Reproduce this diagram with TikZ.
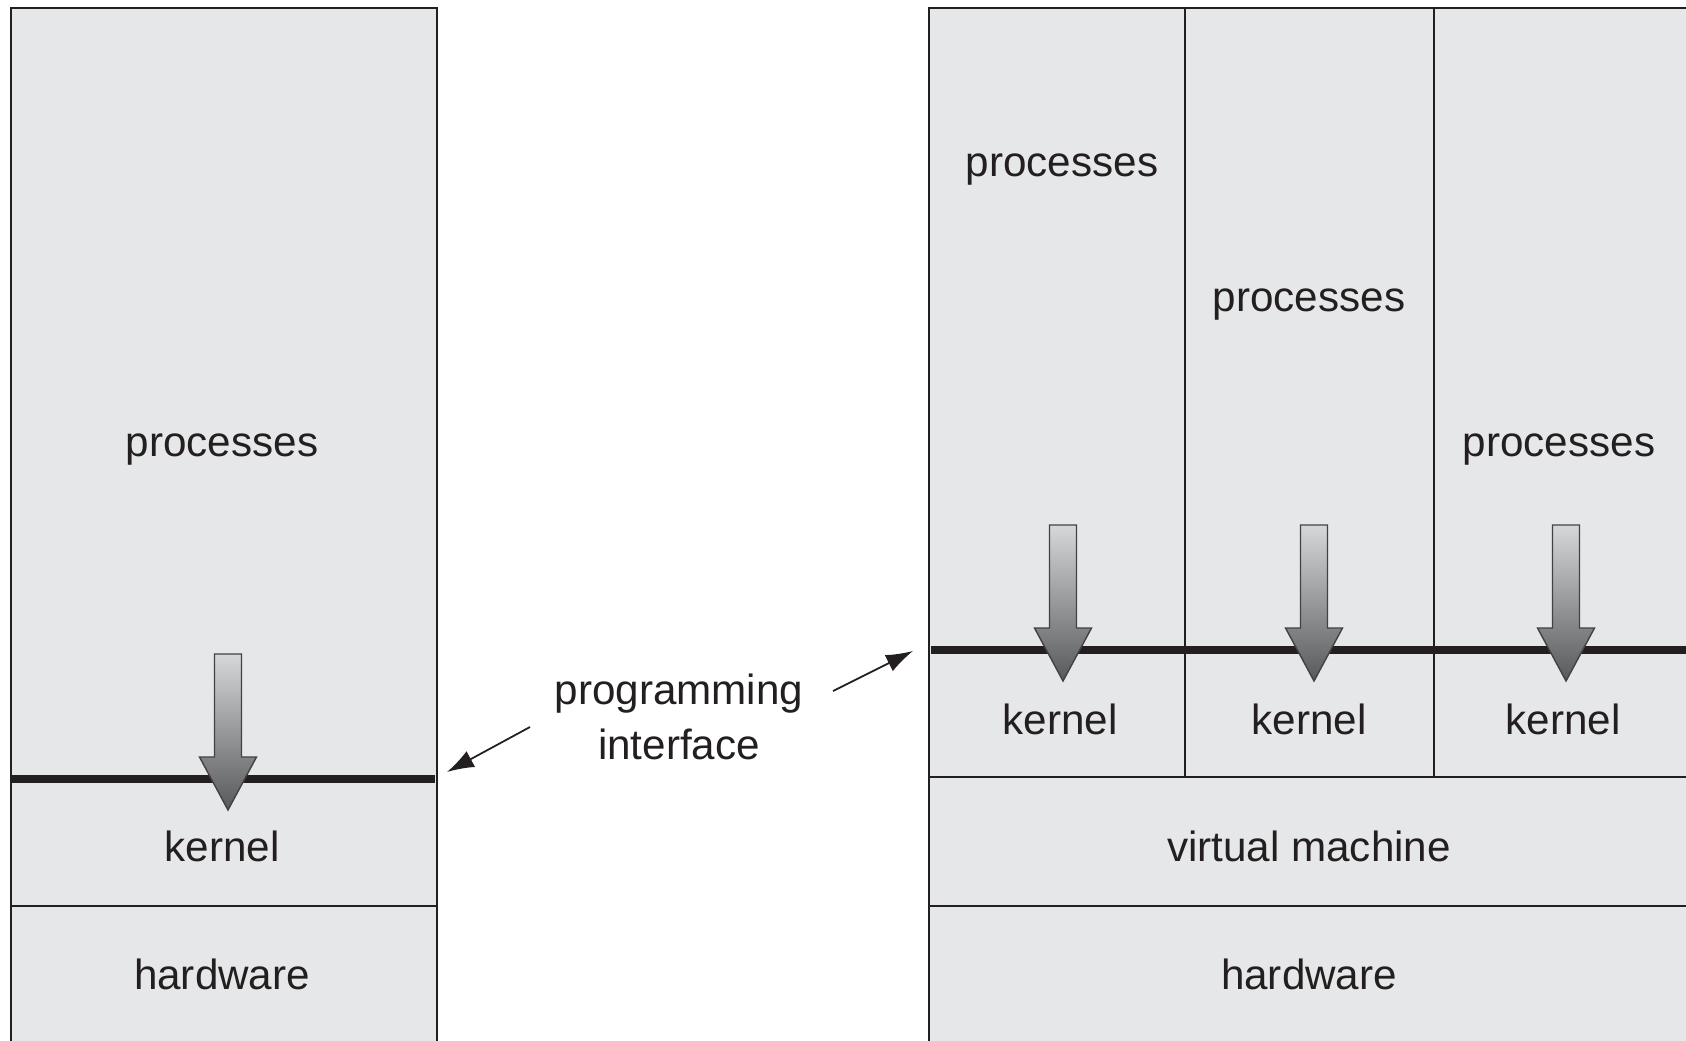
\documentclass[tikz,border=0pt]{standalone}
\usepackage{fontspec}
\setmainfont{Liberation Sans}
\usetikzlibrary{arrows.meta}
\definecolor{boxgray}{HTML}{E6E7E8}
\definecolor{ink}{HTML}{231F20}
\definecolor{shadetop}{HTML}{D6D7D9}
\definecolor{shadebot}{HTML}{58595B}
\tikzset{
  lbl/.style={anchor=base,text=ink,font=\fontsize{12pt}{15.6pt}\selectfont,inner sep=0pt},
  api/.style={line width=2.2pt,draw=ink},
  callarrow/.style={top color=shadetop,bottom color=shadebot,draw=ink!85,line width=0.4pt},
  ptr/.style={-{Latex[length=0.27cm,width=0.18cm]},line width=0.5pt,draw=ink}
}
\begin{document}
\begin{tikzpicture}[x=0.01cm,y=-0.01cm]
\useasboundingbox (0,0) rectangle (1686,1040);
\clip (0,0) rectangle (1686,1040);
\begin{scope}[draw=ink,line width=0.75pt]
    \filldraw[fill=boxgray] (11,8) rectangle (437,1060);
    \draw (11,906) -- (437,906);
    \filldraw[fill=boxgray] (929,8) rectangle (1700,1060);
    \draw (1185,8) -- (1185,777) (1434,8) -- (1434,777);
    \draw (929,777) -- (1700,777) (929,906) -- (1700,906);
\end{scope}
\draw[api] (11,779) -- (435,779);
\draw[api] (931,650) -- (1700,650);
\foreach \x/\y in {228/654,1063/525,1314/525,1566/525}
    \shade[callarrow] (\x-13.5,\y) -- (\x+13.5,\y) -- (\x+13.5,\y+103) -- (\x+28.5,\y+103)
        -- (\x,\y+156) -- (\x-28.5,\y+103) -- (\x-13.5,\y+103) -- cycle;
\node[lbl] (lproc) at (222,456) {processes};
\node[lbl] (lkern) at (222,861) {kernel};
\node[lbl] (lhw) at (222,989) {hardware};
\node[lbl] (proc1) at (1062,177) {processes};
\node[lbl] (proc2) at (1309,311) {processes};
\node[lbl] (proc3) at (1559,456) {processes};
\node[lbl] (kern1) at (1060,734) {kernel};
\node[lbl] (kern2) at (1309,734) {kernel};
\node[lbl] (kern3) at (1563,734) {kernel};
\node[lbl] (vm) at (1309,861) {virtual machine};
\node[lbl] (rhw) at (1309,989) {hardware};
\node[lbl,align=center] (iface) at (679,759) {programming\\interface};
\coordinate (ltail) at (530,727);
\coordinate (lhead) at (447,772);
\coordinate (rtail) at (833,691);
\coordinate (rhead) at (913,651);
\draw[ptr] (ltail) -- (lhead);
\draw[ptr] (rtail) -- (rhead);
\end{tikzpicture}
\end{document}
